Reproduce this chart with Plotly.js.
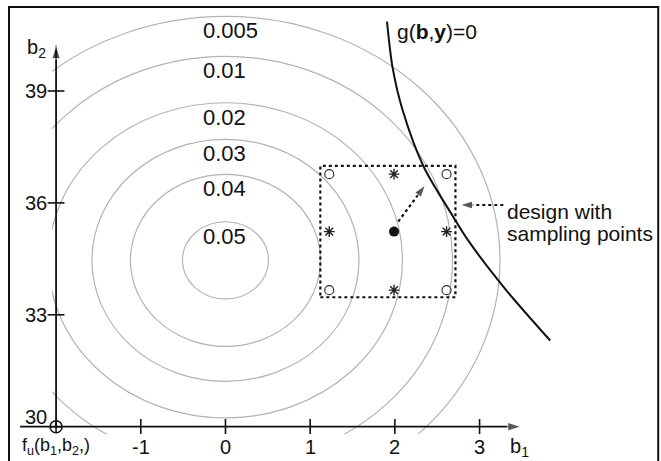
<!DOCTYPE html>
<html>
<head>
<meta charset="utf-8">
<script src="https://cdn.plot.ly/plotly-3.0.1.min.js"></script>
<style>html,body{margin:0;padding:0;background:#fff;}#chart{width:661px;height:461px;}</style>
</head>
<body>
<div id="chart"></div>
<script>
// ---- data ----
const xTickVals = [-1, 0, 1, 2, 3];
const xTickText = ['-1', '0', '1', '2', '3'];
const yTickVals = [30, 33, 36, 39];
const yTickText = ['30', '33', '36', '39'];
const axisOrigin = [-2, 30];          // (b1, b2) where the axes cross
const axisEnd = [3.56, 40.39];        // arrow tips of b1 and b2 axes
const densityMean = [0, 34.46];       // centre of f_u contours
const contourLevels = ['0.05', '0.04', '0.03', '0.02', '0.01', '0.005'];
const radiusB1 = [0.508, 1.122, 1.576, 2.090, 2.680, 3.241];
const radiusB2 = [1.035, 2.306, 3.244, 4.225, 5.469, 6.542];
const limitB1 = [1.907, 1.972, 2.091, 2.340, 2.688, 2.863, 3.311, 3.834];
const limitB2 = [40.86, 39.64, 38.49, 36.97, 35.63, 35.00, 33.67, 32.31];
const boxB1 = [1.12, 2.715];
const boxB2 = [33.47, 36.99];
const cornerB1 = [1.225, 2.61, 1.225, 2.61];
const cornerB2 = [36.77, 36.77, 33.66, 33.66];
const starB1 = [1.99, 1.225, 2.61, 1.99];
const starB2 = [36.77, 35.23, 35.23, 33.66];
const meanDesign = [1.99, 35.23];
const shiftArrowB1 = [2.04, 2.36];
const shiftArrowB2 = [35.50, 36.48];
const noteArrowB1 = [3.28, 2.77];
const noteArrowB2 = [35.944, 35.944];

const FONT = 'Arial, "Liberation Sans", sans-serif';
const INK = '#111';

const traces = [];
// axes drawn as lines with arrow heads
traces.push({x: [axisOrigin[0], axisEnd[0] - 0.07], y: [axisOrigin[1], axisOrigin[1]], mode: 'lines+markers',
  line: {color: INK, width: 1.8}, marker: {symbol: 'arrow', angleref: 'previous', size: [0, 14], color: INK},
  cliponaxis: false, hoverinfo: 'skip'});
traces.push({x: [axisOrigin[0], axisOrigin[0]], y: [axisOrigin[1], axisEnd[1] - 0.17], mode: 'lines+markers',
  line: {color: INK, width: 1.8}, marker: {symbol: 'arrow', angleref: 'previous', size: [0, 14], color: INK},
  cliponaxis: false, hoverinfo: 'skip'});
// limit state curve
traces.push({x: limitB1, y: limitB2, mode: 'lines', line: {color: INK, width: 2, shape: 'spline', smoothing: 0.8}, hoverinfo: 'skip'});
// design box
traces.push({x: [boxB1[0], boxB1[1], boxB1[1], boxB1[0], boxB1[0]], y: [boxB2[0], boxB2[0], boxB2[1], boxB2[1], boxB2[0]],
  mode: 'lines', line: {color: INK, width: 2.2, dash: 'dot'}, hoverinfo: 'skip'});
// sampling points
traces.push({x: cornerB1, y: cornerB2, mode: 'markers', marker: {symbol: 'circle-open', size: 9, color: '#333', line: {width: 1.2, color: '#333'}}, hoverinfo: 'skip'});
traces.push({x: starB1, y: starB2, mode: 'markers', marker: {symbol: 'asterisk-open', size: 9, color: '#222', line: {width: 1.4, color: '#222'}}, hoverinfo: 'skip'});
traces.push({x: [meanDesign[0]], y: [meanDesign[1]], mode: 'markers', marker: {symbol: 'circle', size: 10, color: INK}, hoverinfo: 'skip'});
// dotted arrows
traces.push({x: shiftArrowB1, y: shiftArrowB2, mode: 'lines+markers', line: {color: INK, width: 2.2, dash: 'dot'},
  marker: {symbol: 'arrow', angleref: 'previous', size: [0, 13], color: INK}, hoverinfo: 'skip'});
traces.push({x: noteArrowB1, y: noteArrowB2, mode: 'lines+markers', line: {color: INK, width: 2.2, dash: 'dot'},
  marker: {symbol: 'arrow', angleref: 'previous', size: [0, 13], color: INK}, hoverinfo: 'skip'});
// tick marks
traces.push({x: xTickVals, y: xTickVals.map(() => axisOrigin[1]), mode: 'markers',
  marker: {symbol: 'line-ns-open', size: 11, color: INK, line: {width: 1.6, color: INK}}, hoverinfo: 'skip'});
const yT = yTickVals.filter(v => v !== axisOrigin[1]);
traces.push({x: yT.map(() => axisOrigin[0]), y: yT, mode: 'markers',
  marker: {symbol: 'line-ew-open', size: 12, color: INK, line: {width: 1.6, color: INK}}, hoverinfo: 'skip', cliponaxis: false});
// origin marker
traces.push({x: [axisOrigin[0]], y: [axisOrigin[1]], mode: 'markers',
  marker: {symbol: 'circle-cross-open', size: 12, color: INK, line: {width: 1.5, color: INK}}, hoverinfo: 'skip', cliponaxis: false});

const shapes = [];
contourLevels.forEach((lv, i) => {
  shapes.push({type: 'circle', xref: 'x', yref: 'y', layer: 'below',
    x0: densityMean[0] - radiusB1[i], x1: densityMean[0] + radiusB1[i],
    y0: densityMean[1] - radiusB2[i], y1: densityMean[1] + radiusB2[i],
    line: {color: '#b3b3b3', width: 1.2}});
});
// short stub of the b1 axis left of the origin
shapes.push({type: 'line', xref: 'paper', yref: 'y', x0: -0.0544, x1: 0.01, y0: axisOrigin[1], y1: axisOrigin[1], line: {color: INK, width: 1.8}});
// outer frame
shapes.push({type: 'rect', xref: 'paper', yref: 'paper', x0: -0.0731, x1: 1.031, y0: -0.09, y1: 1.0024, line: {color: INK, width: 2}, layer: 'above'});

const annotations = [];
// tick labels
xTickVals.forEach((v, i) => annotations.push({x: v, y: axisOrigin[1], xref: 'x', yref: 'y', text: xTickText[i], showarrow: false,
  yanchor: 'middle', yshift: -20, font: {family: FONT, size: 20, color: INK}}));
yTickVals.forEach((v, i) => annotations.push({x: axisOrigin[0], y: v, xref: 'x', yref: 'y', text: yTickText[i], showarrow: false,
  xanchor: 'right', xshift: -7, yanchor: 'middle', yshift: v === axisOrigin[1] ? 10 : 0, font: {family: FONT, size: 20, color: INK}}));
// axis titles
annotations.push({x: axisEnd[0], y: axisOrigin[1], xref: 'x', yref: 'y', text: 'b<sub>1</sub>', showarrow: false,
  xanchor: 'right', xshift: 4, yshift: -21, font: {family: FONT, size: 20, color: INK}});
annotations.push({x: axisOrigin[0], y: axisEnd[1], xref: 'x', yref: 'y', text: 'b<sub>2</sub>', showarrow: false,
  xanchor: 'right', xshift: -8, yshift: -9, font: {family: FONT, size: 20, color: INK}});
annotations.push({x: axisOrigin[0], y: axisOrigin[1], xref: 'x', yref: 'y', text: 'f<sub>u</sub>(b<sub>1</sub>,b<sub>2</sub>,)', showarrow: false,
  yshift: -20, font: {family: FONT, size: 18, color: INK}});
// contour labels
contourLevels.forEach((lv, i) => annotations.push({x: densityMean[0] - 0.29, y: densityMean[1] + radiusB2[i], xref: 'x', yref: 'y',
  text: lv, showarrow: false, xanchor: 'left', yanchor: 'middle', yshift: -14.5, font: {family: FONT, size: 22, color: INK}}));
// curve and note labels
annotations.push({x: limitB1[0] + 0.09, y: limitB2[0] - 0.27, xref: 'x', yref: 'y', text: 'g(<b>b</b>,<b>y</b>)=0', showarrow: false,
  xanchor: 'left', yanchor: 'middle', font: {family: FONT, size: 21, color: INK}});
annotations.push({x: noteArrowB1[0] + 0.02, y: 35.76, xref: 'x', yref: 'y', text: 'design with', showarrow: false,
  xanchor: 'left', yanchor: 'middle', font: {family: FONT, size: 21, color: INK}});
annotations.push({x: noteArrowB1[0] + 0.02, y: 35.18, xref: 'x', yref: 'y', text: 'sampling points', showarrow: false,
  xanchor: 'left', yanchor: 'middle', font: {family: FONT, size: 21, color: INK}});

const layout = {
  width: 661, height: 461,
  margin: {l: 52, r: 21, t: 8, b: 27, pad: 0},
  paper_bgcolor: '#fff', plot_bgcolor: '#fff',
  showlegend: false,
  xaxis: {range: [-2.048, 4.894], showgrid: false, zeroline: false, showticklabels: false, showline: false, ticks: ''},
  yaxis: {range: [29.804, 41.225], showgrid: false, zeroline: false, showticklabels: false, showline: false, ticks: ''},
  shapes: shapes,
  annotations: annotations,
  font: {family: FONT}
};
Plotly.newPlot('chart', traces, layout, {staticPlot: true});
</script>
</body>
</html>
